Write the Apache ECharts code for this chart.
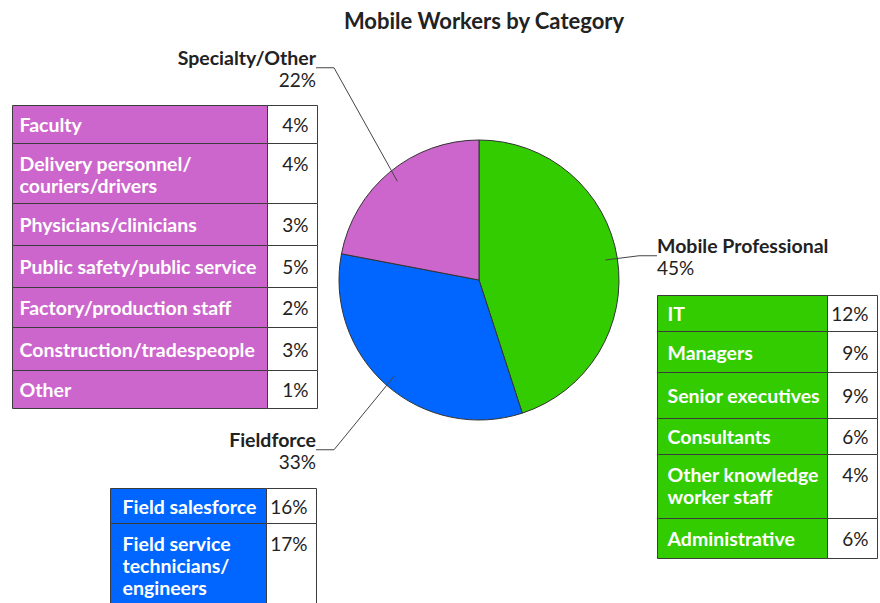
<!DOCTYPE html>
<html>
<head>
<meta charset="utf-8">
<title>Mobile Workers by Category</title>
<script src="https://cdn.jsdelivr.net/npm/echarts@6/dist/echarts.min.js"></script>
<style>
  html, body { margin: 0; padding: 0; background: #fff; }
  #chart { width: 880px; height: 603px; }
</style>
</head>
<body>
<div id="chart"></div>
<script>
// main split
var groupNames = ['Mobile Professional', 'Fieldforce', 'Specialty/Other'];
var groupValues = [45, 33, 22];

// breakdown of each group
var mobileCats = ['IT', 'Managers', 'Senior executives', 'Consultants', 'Other knowledge\nworker staff', 'Administrative'];
var mobileValues = [12, 9, 9, 6, 4, 6];
var fieldCats = ['Field salesforce', 'Field service\ntechnicians/\nengineers'];
var fieldValues = [16, 17];
var specialtyCats = ['Faculty', 'Delivery personnel/\ncouriers/drivers', 'Physicians/clinicians',
  'Public safety/public service', 'Factory/production staff', 'Construction/tradespeople', 'Other'];
var specialtyValues = [4, 4, 3, 5, 2, 3, 1];

var groupColors = ['#33cc00', '#0066ff', '#cc66cc'];
var FONT = 'Lato, "Open Sans", sans-serif';
var CX = 479, CY = 280;

// where the group labels sit (align / anchor point)
var labelSpots = [
  { x: 649, y: 256, align: 'left', padding: [0, 0, 0, 8] },
  { x: 328, y: 450, align: 'right', padding: [0, 12, 0, 0] },
  { x: 325, y: 68, align: 'right', padding: [0, 9, 0, 0] }
];

// table boxes
var tableBoxes = {
  mobile: { left: 657.5, top: 295.5, labelW: 170, valueW: 50, padX: 10, rows: [36, 41, 46, 36, 64, 40] },
  field: { left: 110.5, top: 488.5, labelW: 156, valueW: 50, padX: 12, rows: [35, 80] },
  specialty: { left: 12.5, top: 105.5, labelW: 255, valueW: 50, padX: 7, rows: [38, 60, 42, 42, 40, 43, 38] }
};

function buildTable(cats, vals, color, box) {
  var els = [];
  var y = box.top;
  cats.forEach(function (name, i) {
    var h = box.rows[i];
    var multi = name.split('\n').length > 1;
    var ty = multi ? y + 9 : y + h / 2;
    var va = multi ? 'top' : 'middle';
    els.push({
      type: 'rect', silent: true,
      shape: { x: box.left, y: y, width: box.labelW, height: h },
      style: { fill: color, stroke: '#3c3c3c', lineWidth: 1 }
    });
    els.push({
      type: 'rect', silent: true,
      shape: { x: box.left + box.labelW, y: y, width: box.valueW, height: h },
      style: { fill: '#fff', stroke: '#3c3c3c', lineWidth: 1 }
    });
    els.push({
      type: 'text', silent: true,
      style: {
        text: name, x: box.left + box.padX, y: ty, align: 'left', verticalAlign: va,
        fill: '#fff', fontFamily: FONT, fontWeight: 'bold', fontSize: 19.5, lineHeight: 22
      }
    });
    els.push({
      type: 'text', silent: true,
      style: {
        text: vals[i] + '%', x: box.left + box.labelW + box.valueW - 9, y: ty, align: 'right', verticalAlign: va,
        fill: '#222', fontFamily: FONT, fontSize: 19, lineHeight: 22
      }
    });
    y += h;
  });
  return els;
}

var chart = echarts.init(document.getElementById('chart'), null, { renderer: 'svg' });

var pieData = groupNames.map(function (n, i) {
  return { name: n, value: groupValues[i], itemStyle: { color: groupColors[i] } };
});
var labelData = groupNames.map(function (n, i) {
  var s = labelSpots[i];
  return {
    name: n, value: groupValues[i],
    label: {
      align: s.align, padding: s.padding,
      rich: { n: { align: s.align }, p: { align: s.align } }
    }
  };
});

chart.setOption({
  animation: false,
  title: {
    text: 'Mobile Workers by Category',
    left: CX, top: 4, textAlign: 'center',
    textStyle: { fontFamily: FONT, fontSize: 22, fontWeight: 'bold', color: '#222' }
  },
  graphic: [].concat(
    buildTable(specialtyCats, specialtyValues, groupColors[2], tableBoxes.specialty),
    buildTable(mobileCats, mobileValues, groupColors[0], tableBoxes.mobile),
    buildTable(fieldCats, fieldValues, groupColors[1], tableBoxes.field)
  ),
  series: [
    {
      type: 'pie',
      center: [CX, CY],
      radius: 140,
      startAngle: 90,
      clockwise: true,
      silent: true,
      label: { show: false },
      labelLine: { show: false },
      itemStyle: { borderColor: '#333', borderWidth: 1 },
      emphasis: { disabled: true },
      data: pieData
    },
    {
      // invisible inner copy that carries the labels, so the leader lines start inside the slices
      type: 'pie',
      center: [CX, CY],
      radius: 128,
      startAngle: 90,
      clockwise: true,
      silent: true,
      z: 3,
      itemStyle: { color: 'rgba(0,0,0,0)', borderWidth: 0 },
      emphasis: { disabled: true },
      label: {
        show: true,
        position: 'outside',
        formatter: '{n|{b}}\n{p|{c}%}',
        color: '#222',
        rich: {
          n: { fontFamily: FONT, fontSize: 19.5, fontWeight: 'bold', lineHeight: 22, color: '#222' },
          p: { fontFamily: FONT, fontSize: 19, lineHeight: 22, color: '#222' }
        }
      },
      labelLine: {
        show: true, length: 20, length2: 18,
        lineStyle: { color: '#444', width: 1 }
      },
      labelLayout: function (params) {
        var s = labelSpots[params.dataIndex];
        return { x: s.x, y: s.y, align: s.align, verticalAlign: 'middle' };
      },
      data: labelData
    }
  ]
});
</script>
</body>
</html>
